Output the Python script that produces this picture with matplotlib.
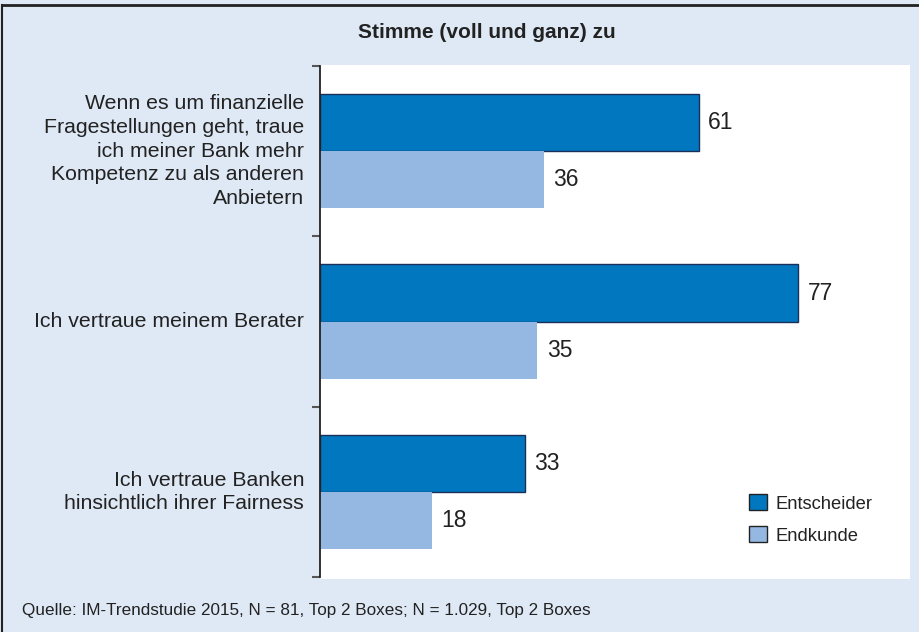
import matplotlib
matplotlib.use("Agg")
import matplotlib.pyplot as plt
from matplotlib.patches import Rectangle
import numpy as np

categories = [
    "Wenn es um finanzielle\nFragestellungen geht, traue\nich meiner Bank mehr\nKompetenz zu als anderen\nAnbietern",
    "Ich vertraue meinem Berater",
    "Ich vertraue Banken\nhinsichtlich ihrer Fairness",
]
entscheider = [61, 77, 33]
endkunde = [36, 35, 18]
series_names = ["Entscheider", "Endkunde"]
title = "Stimme (voll und ganz) zu"
source = "Quelle: IM-Trendstudie 2015, N = 81, Top 2 Boxes; N = 1.029, Top 2 Boxes"

plt.rcParams['font.family'] = ['Liberation Sans', 'DejaVu Sans']

W, H = 919, 632
fig = plt.figure(figsize=(W / 100, H / 100), dpi=100)
bg = "#DFE9F5"
fig.patch.set_facecolor(bg)

# border lines top/left
fig.add_artist(plt.Line2D([2 / W, 2 / W], [0, 1 - 5 / H], transform=fig.transFigure, color="#222222", lw=1.5))
fig.add_artist(plt.Line2D([2 / W, 1], [1 - 5 / H, 1 - 5 / H], transform=fig.transFigure, color="#222222", lw=2))

left, right, top, bottom = 320, 910, 65, 579
ax = fig.add_axes([left / W, 1 - bottom / H, (right - left) / W, (bottom - top) / H])
ax.set_facecolor("white")

dark = "#0077BE"
light = "#95B8E2"
y = np.arange(len(categories))
h = 0.335
ax.barh(y - h / 2, entscheider, height=h, color=dark, edgecolor="#1a2f5a", linewidth=1.0)
ax.barh(y + h / 2, endkunde, height=h, color=light, edgecolor=light, linewidth=0)

for yi, v in zip(y, entscheider):
    ax.text(v + 1.5, yi - h / 2, str(v), va="center", ha="left", fontsize=16.5, color="#222222")
for yi, v in zip(y, endkunde):
    ax.text(v + 1.5, yi + h / 2, str(v), va="center", ha="left", fontsize=16.5, color="#222222")

ax.set_xlim(0, 95)
ax.set_ylim(2.51, -0.505)
for s in ["top", "right", "bottom"]:
    ax.spines[s].set_visible(False)
ax.spines["left"].set_bounds(-0.5, 2.5)
ax.spines["left"].set_color("#222222")
ax.spines["left"].set_linewidth(1.3)
ax.set_xticks([])
ax.set_yticks([-0.5, 0.5, 1.5, 2.5])
ax.set_yticklabels([])
ax.tick_params(axis="y", length=6, width=1.5, color="#555555", direction="out")

for yi, lab in zip(y, categories):
    ax.text(-16 / 6.23, yi, lab, ha="right", va="center", fontsize=15.3, color="#222222",
            linespacing=1.32, transform=ax.transData)

# legend
handles = [Rectangle((0, 0), 1, 1, facecolor=dark, edgecolor="#222222", lw=1.0),
           Rectangle((0, 0), 1, 1, facecolor=light, edgecolor="#222222", lw=1.0)]
leg = ax.legend(handles, series_names, loc="lower right", bbox_to_anchor=(0.965, 0.035),
                frameon=False, fontsize=13.2, handlelength=0.95, handleheight=0.95,
                handletextpad=0.5, labelspacing=0.75)
for t in leg.get_texts():
    t.set_color("#222222")

fig.text(487 / W, 1 - 32 / H, title, ha="center", va="center", fontsize=15, color="#222222",
         fontweight="bold", family=["Liberation Sans Narrow", "Liberation Sans", "DejaVu Sans"])
fig.text(22 / W, 1 - 610 / H, source, ha="left", va="center", fontsize=12.3, color="#222222",
         family=["Liberation Sans Narrow", "Liberation Sans", "DejaVu Sans"])

fig.savefig("out.png", dpi=100, facecolor=bg)
